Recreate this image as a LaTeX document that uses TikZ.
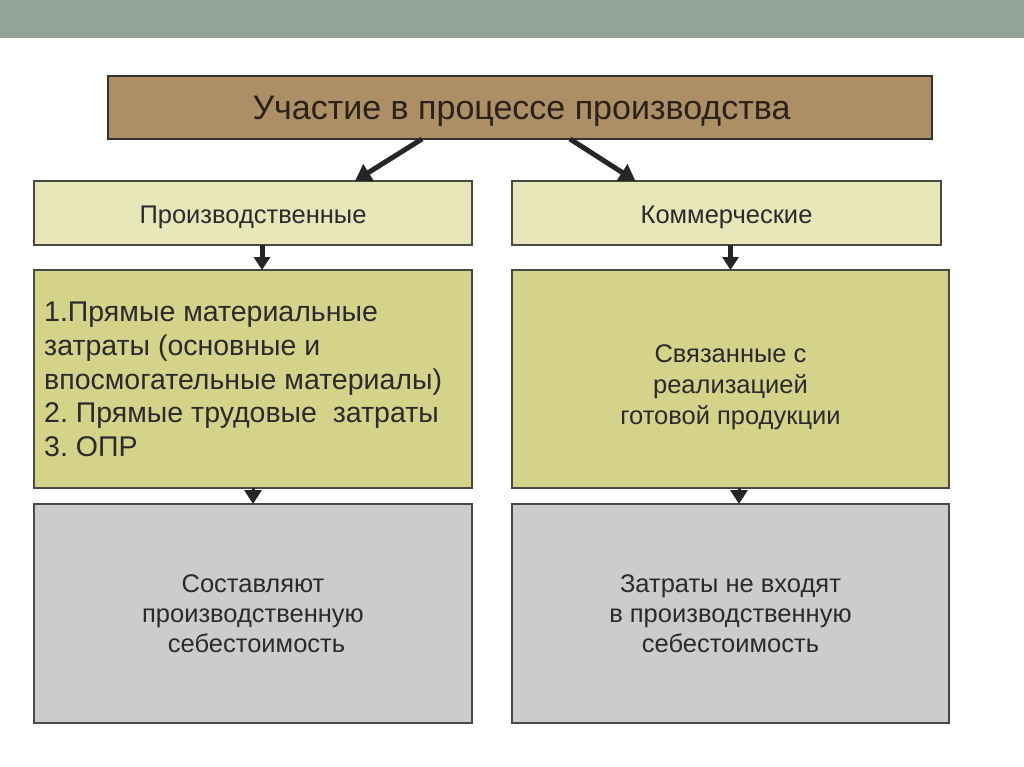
\documentclass[tikz,border=0pt]{standalone}
\usepackage{fontspec}
\setmainfont{Liberation Sans}
\frenchspacing
\usetikzlibrary{arrows.meta}
\definecolor{topbar}{HTML}{93A397}
\definecolor{titlefill}{HTML}{AD8F65}
\definecolor{lightfill}{HTML}{E8E7BA}
\definecolor{midfill}{HTML}{D5D28A}
\definecolor{grayfill}{HTML}{CCCCCC}
\definecolor{boxline}{HTML}{4A4A44}
\definecolor{txt}{HTML}{2B2B2B}
\definecolor{titletxt}{HTML}{2A2218}
\definecolor{arr}{HTML}{262626}
\tikzset{
  box/.style={draw=boxline, line width=1.3pt, inner sep=0pt, outer sep=0pt,
    anchor=north west},
  lbl/.style={inner sep=0pt, text=txt, align=center,
    font=\fontsize{25.5}{31}\selectfont},
  bigarrow/.style={draw=arr, line width=5pt,
    -{Triangle[length=16pt,width=19pt]}},
  smallarrow/.style={draw=arr, line width=5pt,
    -{Triangle[length=13pt,width=16pt]}},
  headarrow/.style={draw=arr, line width=3pt,
    -{Triangle[length=14pt,width=17pt]}},
}
\begin{document}
\begin{tikzpicture}[x=1pt,y=-1pt]
\useasboundingbox (0,0) rectangle (1024,767);
\fill[white] (0,0) rectangle (1024,767);
\fill[topbar] (0,0) rectangle (1024,38);

% boxes
\node[box, draw=black!80, fill=titlefill, minimum width=824pt, minimum height=63pt] (title) at (108,76) {};
\node[box, fill=lightfill, minimum width=438pt, minimum height=64pt] (a1) at (34,181) {};
\node[box, fill=lightfill, minimum width=429pt, minimum height=64pt] (b1) at (512,181) {};
\node[box, fill=midfill, minimum width=438pt, minimum height=218pt] (a2) at (34,270) {};
\node[box, fill=midfill, minimum width=437pt, minimum height=218pt] (b2) at (512,270) {};
\node[box, fill=grayfill, minimum width=438pt, minimum height=219pt] (a3) at (34,504) {};
\node[box, fill=grayfill, minimum width=437pt, minimum height=219pt] (b3) at (512,504) {};

% texts
\node[lbl, anchor=base, text=titletxt, font=\fontsize{34}{38}\selectfont] (titlet)
  at ([xshift=1.5pt,yshift=19.7pt]title.south) {Участие в процессе производства};
\node[lbl, anchor=base] (a1t) at ([yshift=21.7pt]a1.south) {Производственные};
\node[lbl, anchor=base] (b1t) at ([yshift=21.7pt]b1.south) {Коммерческие};
\node[lbl, anchor=west, align=left, font=\fontsize{28.5}{33.8}\selectfont] (a2t)
  at ([xshift=10pt,yshift=-0.5pt]a2.west)
  {1.Прямые материальные\\затраты (основные и\\впосмогательные материалы)\\2. Прямые трудовые\ \ затраты\\3. ОПР};
\node[lbl] (b2t) at ([yshift=-8.5pt]b2.center) {Связанные с\\реализацией\\готовой продукции};
\node[lbl, font=\fontsize{25.5}{30}\selectfont] (a3t) at (a3.center) {Составляют\\производственную\\\ себестоимость};
\node[lbl, font=\fontsize{25.5}{30}\selectfont] (b3t) at (b3.center) {Затраты не входят\\в производственную\\себестоимость};

% connectors
\draw[bigarrow] ([xshift=-98pt]title.south) -- ([xshift=102pt]a1.north);
\draw[bigarrow] ([xshift=50pt]title.south) -- ([xshift=-91pt]b1.north);

\draw[smallarrow] ([xshift=9pt]a1.south) -- ([xshift=9pt]a2.north);
\draw[smallarrow] (b2.north |- b1.south) -- (b2.north);

\draw[headarrow] (a2.south) -- (a3.north);
\draw[headarrow] ([xshift=8.5pt]b2.south) -- ([xshift=8.5pt]b3.north);
\end{tikzpicture}
\end{document}
